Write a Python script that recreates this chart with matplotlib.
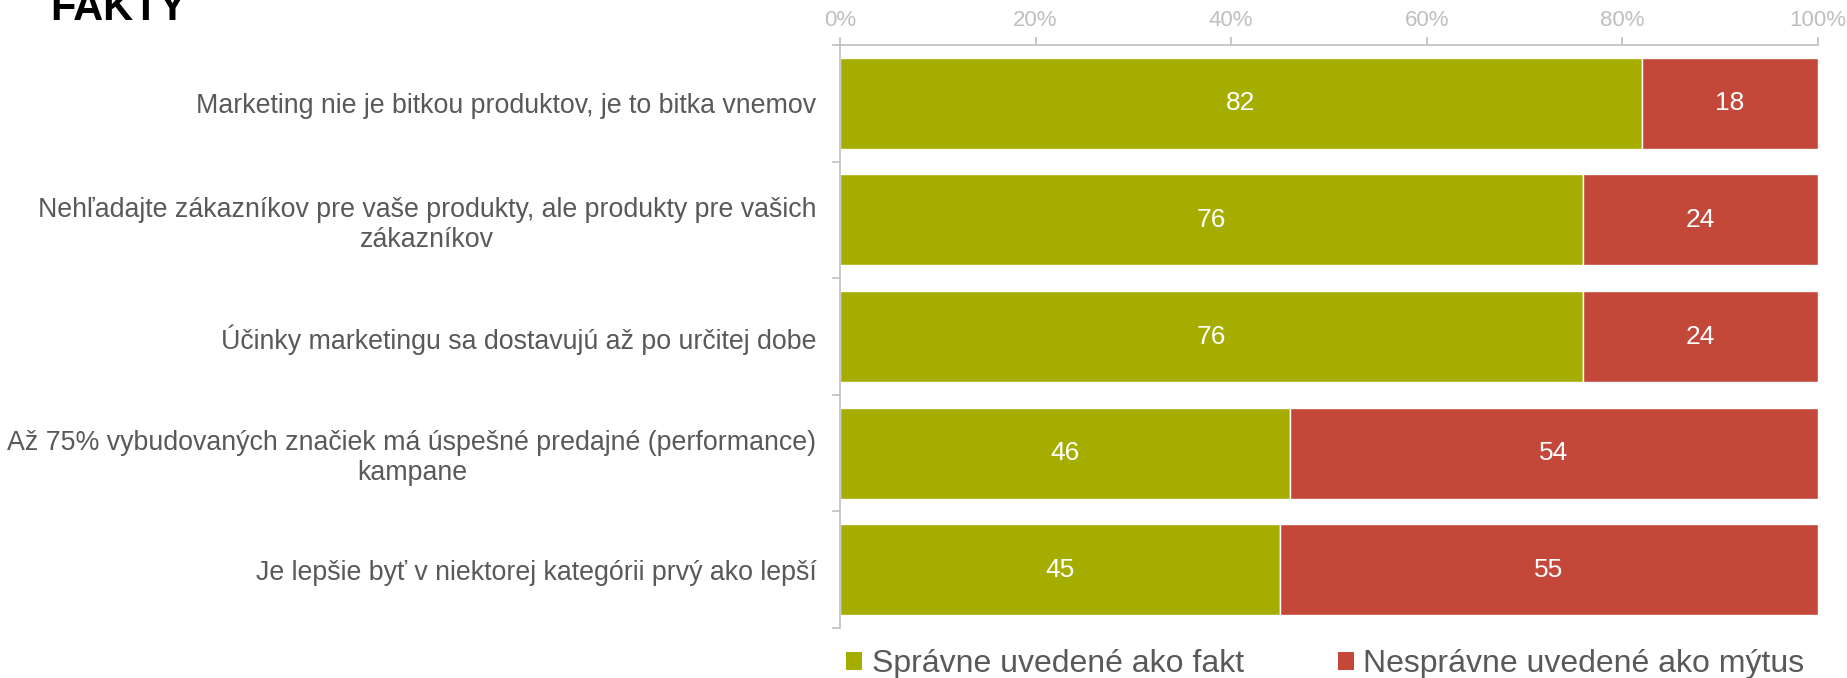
import matplotlib
matplotlib.use("Agg")
import matplotlib.pyplot as plt
import numpy as np
from matplotlib.patches import Patch

plt.rcParams['font.family'] = ['Liberation Sans', 'DejaVu Sans']

categories = [
    "Marketing nie je bitkou produktov, je to bitka vnemov",
    "Nehľadajte zákazníkov pre vaše produkty, ale produkty pre vašich\nzákazníkov",
    "Účinky marketingu sa dostavujú až po určitej dobe",
    "Až 75% vybudovaných značiek má úspešné predajné (performance)\nkampane",
    "Je lepšie byť v niektorej kategórii prvý ako lepší",
]
fakt = [82, 76, 76, 46, 45]
mytus = [18, 24, 24, 54, 55]
series_names = ["Správne uvedené ako fakt", "Nesprávne uvedené ako mýtus"]
colors = ["#A5AE00", "#C4483A"]
xticks = [0, 20, 40, 60, 80, 100]

fig = plt.figure(figsize=(18.47, 6.78), dpi=100)
ax = fig.add_axes([840 / 1847, 1 - 628 / 678, (1818 - 840) / 1847, (628 - 45) / 678])

y = np.arange(len(categories))
h = 0.78
b1 = ax.barh(y, fakt, height=h, color=colors[0], edgecolor="white", linewidth=1)
b2 = ax.barh(y, mytus, left=fakt, height=h, color=colors[1], edgecolor="white", linewidth=1)

# value labels in the middle of each segment
for bars, vals in [(b1, fakt), (b2, mytus)]:
    for bar, v in zip(bars, vals):
        ax.text(bar.get_x() + bar.get_width() / 2, bar.get_y() + bar.get_height() / 2,
                str(v), ha="center", va="center", color="white", fontsize=19)

ax.set_xlim(0, 100)
ax.set_ylim(len(categories) - 0.5, -0.5)
ax.xaxis.tick_top()
ax.set_xticks(xticks)
ax.set_xticklabels([f"{t}%" for t in xticks])
ax.tick_params(axis="x", which="major", colors="#BFBFBF", labelcolor="#BFBFBF",
               length=6, width=1.2, labelsize=16, pad=4)

ax.set_yticks(y)
ax.set_yticklabels(categories, multialignment="center")
ax.set_yticks(np.arange(-0.5, len(categories), 1), minor=True)
ax.tick_params(axis="y", which="major", length=0, labelsize=19.3, labelcolor="#595959", pad=17)
ax.tick_params(axis="y", which="minor", length=6, width=1.2, color="#BFBFBF")

for s in ["right", "bottom"]:
    ax.spines[s].set_visible(False)
for s in ["left", "top"]:
    ax.spines[s].set_color("#BFBFBF")
    ax.spines[s].set_linewidth(1.2)

fig.text(50 / 1847, 1 - 20 / 678, "FAKTY", fontsize=30, fontweight="bold", color="black",
         ha="left", va="baseline")

handles = [Patch(facecolor=c, edgecolor="none") for c in colors]
fig.legend(handles, series_names, loc="center left", bbox_to_anchor=(846 / 1847, 1 - 664 / 678),
           ncol=2, frameon=False, fontsize=23, labelcolor="#595959",
           handlelength=0.5, handleheight=0.5, handletextpad=0.3, columnspacing=2.95,
           borderaxespad=0, borderpad=0)

fig.savefig("out.png", dpi=100)
